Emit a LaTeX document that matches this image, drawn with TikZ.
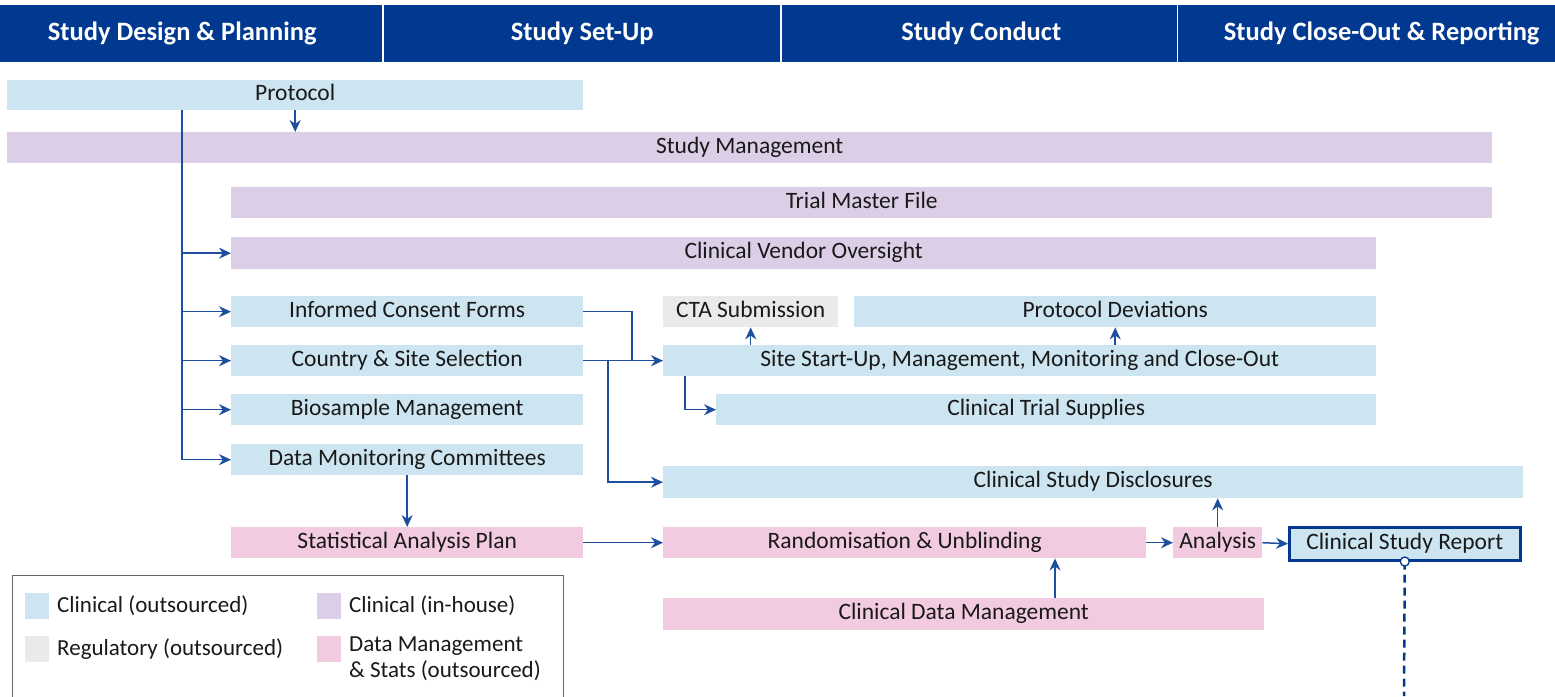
\documentclass[tikz,border=0pt]{standalone}
\usepackage{fontspec}
\setmainfont{Carlito}
\usetikzlibrary{arrows.meta,calc}
\definecolor{hdr}{RGB}{0,57,143}
\definecolor{cblue}{RGB}{205,229,241}
\definecolor{cpurp}{RGB}{221,206,231}
\definecolor{cgray}{RGB}{233,234,234}
\definecolor{cpink}{RGB}{243,203,225}
\definecolor{lnc}{RGB}{30,79,159}
\definecolor{txt}{RGB}{25,25,25}
\tikzset{
  hdrbox/.style={fill=hdr, text=white, inner sep=0, anchor=north west, minimum height=57, font=\fontsize{26.5}{30}\selectfont\bfseries},
  bx/.style={inner sep=0, anchor=north west, text=txt, font=\fontsize{23.5}{27}\selectfont, text height=16pt, text depth=5pt},
  conn/.style={draw=lnc, line width=1.5pt},
  arr/.style={conn, -{Stealth[length=12pt,width=11pt]}},
  legtxt/.style={inner sep=0, anchor=west, text=txt, font=\fontsize{23}{26}\selectfont, align=left},
  swatch/.style={inner sep=0, anchor=north west, minimum width=24, minimum height=26}
}
\begin{document}
\begin{tikzpicture}[x=1pt,y=-1pt]
\useasboundingbox (0,0) rectangle (1555,696);
% header
\node[hdrbox, minimum width=382] (h1) at (0,5) {\hspace*{-18pt}Study Design \& Planning};
\node[hdrbox, minimum width=396] (h2) at (384,5) {Study Set-Up};
\node[hdrbox, minimum width=395] (h3) at (782,5) {\hspace*{3pt}Study Conduct};
\node[hdrbox, minimum width=377] (h4) at (1178,5) {\hspace*{30pt}Study Close-Out \& Reporting};
% boxes
\node[bx, fill=cblue, minimum width=576, minimum height=30] (proto) at (7,80) {Protocol};
\node[bx, fill=cpurp, minimum width=1485, minimum height=31] (sm) at (7,132) {Study Management};
\node[bx, fill=cpurp, minimum width=1261, minimum height=31] (tmf) at (231,187) {Trial Master File};
\node[bx, fill=cpurp, minimum width=1145, minimum height=32] (cvo) at (231,237) {Clinical Vendor Oversight};
\node[bx, fill=cblue, minimum width=352, minimum height=31] (icf) at (231,296) {Informed Consent Forms};
\node[bx, fill=cgray, minimum width=175, minimum height=31] (cta) at (663,296) {CTA Submission};
\node[bx, fill=cblue, minimum width=522, minimum height=31] (pd) at (854,296) {Protocol Deviations};
\node[bx, fill=cblue, minimum width=352, minimum height=31] (css) at (231,345) {Country \& Site Selection};
\node[bx, fill=cblue, minimum width=713, minimum height=31] (ssu) at (663,345) {Site Start-Up, Management, Monitoring and Close-Out};
\node[bx, fill=cblue, minimum width=352, minimum height=31] (bio) at (231,394) {Biosample Management};
\node[bx, fill=cblue, minimum width=660, minimum height=31] (cts) at (716,394) {Clinical Trial Supplies};
\node[bx, fill=cblue, minimum width=352, minimum height=31] (dmc) at (231,444) {Data Monitoring Committees};
\node[bx, fill=cblue, minimum width=860, minimum height=32] (csd) at (663,466) {Clinical Study Disclosures};
\node[bx, fill=cpink, minimum width=352, minimum height=31] (sap) at (231,527) {Statistical Analysis Plan};
\node[bx, fill=cpink, minimum width=483, minimum height=31] (rand) at (663,527) {Randomisation \& Unblinding};
\node[bx, fill=cpink, minimum width=89, minimum height=31] (ana) at (1173,527) {Analysis};
\node[bx, fill=cblue, draw=hdr, line width=2.5pt, minimum width=231, minimum height=33] (csr) at (1288,526) {Clinical Study Report};
\node[bx, fill=cpink, minimum width=601, minimum height=32] (cdm) at (663,598) {Clinical Data Management};
% helper coordinates
\coordinate (spine) at (182,0);
\coordinate (j1) at (632,0);
\coordinate (j2) at (608,0);
\coordinate (j3) at (685,0);
\coordinate (j4) at (1055,0);
\coordinate (dashend) at (1404,696);
% connectors
\draw[arr] (proto.south) -- (proto.south |- sm.north);
\draw[conn] (proto.south -| spine) -- (dmc.west -| spine);
\draw[arr] (cvo.west -| spine) -- (cvo.west);
\draw[arr] (icf.west -| spine) -- (icf.west);
\draw[arr] (css.west -| spine) -- (css.west);
\draw[arr] (bio.west -| spine) -- (bio.west);
\draw[arr] (dmc.west -| spine) -- (dmc.west);
\draw[conn] (icf.east) -| (j1 |- ssu.west);
\draw[arr] (css.east) -- (ssu.west);
\draw[arr] (css.east -| j2) |- (csd.west);
\draw[arr] (cta.south |- ssu.north) -- (cta.south);
\draw[arr] (pd.south |- ssu.north) -- (pd.south);
\draw[arr] (ssu.south -| j3) |- (cts.west);
\draw[arr] (dmc.south) -- (dmc.south |- sap.north);
\draw[arr] (sap.east) -- (rand.west);
\draw[arr] (rand.east) -- (ana.west);
\draw[arr] (ana.east) -- (csr.west);
\draw[arr] (ana.north) -- (ana.north |- csd.south);
\draw[arr] (cdm.north -| j4) -- (rand.south -| j4);
\draw[hdr, line width=2.5pt, dash pattern=on 8pt off 5pt] (csr.south) -- (dashend);
\node[circle, draw=hdr, fill=white, line width=1.3pt, inner sep=0, minimum size=9pt] (dot) at (csr.south) {};
% legend
\draw[gray!80!black, line width=1pt] (12,700) -- (12,575) -- (563,575) -- (563,700);
\node[swatch, fill=cblue] (s1) at (25,593) {};
\node[legtxt] (l1) at (57,606) {Clinical (outsourced)};
\node[swatch, fill=cgray] (s2) at (25,636) {};
\node[legtxt] (l2) at (57,649) {Regulatory (outsourced)};
\node[swatch, fill=cpurp] (s3) at (317,593) {};
\node[legtxt] (l3) at (349,606) {Clinical (in-house)};
\node[swatch, fill=cpink] (s4) at (317,636) {};
\node[legtxt, anchor=north west] (l4) at (349,637) {Data Management\\\& Stats (outsourced)};
\end{tikzpicture}
\end{document}
